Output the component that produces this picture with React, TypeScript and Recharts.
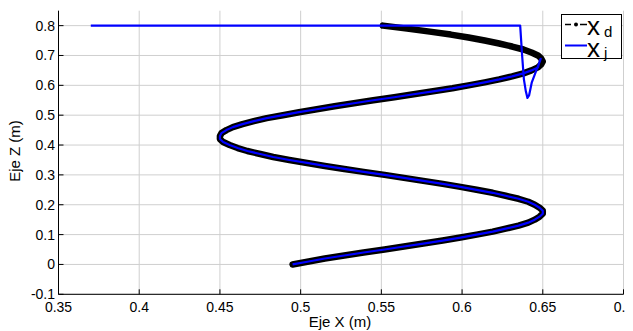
import React from 'react';
import { LineChart, Line, XAxis, YAxis, CartesianGrid } from 'recharts';

// desired trajectory x_d, every 0.01 m in Z
const spiralZ = [
  0, 0.01, 0.02, 0.03, 0.04, 0.05, 0.06, 0.07, 0.08, 0.09,
  0.1, 0.11, 0.12, 0.13, 0.14, 0.15, 0.16, 0.17, 0.18, 0.19,
  0.2, 0.21, 0.22, 0.23, 0.24, 0.25, 0.26, 0.27, 0.28, 0.29,
  0.3, 0.31, 0.32, 0.33, 0.34, 0.35, 0.36, 0.37, 0.38, 0.39,
  0.4, 0.41, 0.42, 0.43, 0.44, 0.45, 0.46, 0.47, 0.48, 0.49,
  0.5, 0.51, 0.52, 0.53, 0.54, 0.55, 0.56, 0.57, 0.58, 0.59,
  0.6, 0.61, 0.62, 0.63, 0.64, 0.65, 0.66, 0.67, 0.68, 0.69,
  0.7, 0.71, 0.72, 0.73, 0.74, 0.75, 0.76, 0.77, 0.78, 0.79,
  0.8,
];
const spiralX = [
  0.495, 0.505, 0.515, 0.527, 0.539, 0.552, 0.564, 0.576, 0.588, 0.599,
  0.609, 0.619, 0.627, 0.635, 0.641, 0.645, 0.648, 0.65, 0.65, 0.648,
  0.645, 0.641, 0.635, 0.627, 0.619, 0.609, 0.599, 0.588, 0.576, 0.564,
  0.552, 0.539, 0.527, 0.515, 0.504, 0.493, 0.483, 0.475, 0.467, 0.461,
  0.456, 0.452, 0.45, 0.45, 0.451, 0.454, 0.458, 0.464, 0.471, 0.479,
  0.489, 0.499, 0.51, 0.521, 0.533, 0.545, 0.558, 0.57, 0.582, 0.594,
  0.604, 0.614, 0.623, 0.631, 0.638, 0.643, 0.647, 0.649, 0.65, 0.649,
  0.647, 0.643, 0.638, 0.631, 0.623, 0.614, 0.604, 0.593, 0.58, 0.566,
  0.551,
];

// actual trajectory x_j: start segment + dip, then it rides the spiral down
const headX = [0.37, 0.636, 0.6372, 0.6383, 0.6395, 0.6405, 0.6415, 0.6432, 0.6463, 0.6483, 0.6487, 0.6482];
const headZ = [0.8, 0.8, 0.7, 0.62, 0.58, 0.558, 0.566, 0.61, 0.654, 0.682, 0.689, 0.684];

const xTicks = [0.35, 0.4, 0.45, 0.5, 0.55, 0.6, 0.65, 0.7];
const yTicks = [-0.1, 0, 0.1, 0.2, 0.3, 0.4, 0.5, 0.6, 0.7, 0.8];

const desired = spiralZ.map((z, i) => ({ x: spiralX[i], z }));
const actual = [
  ...headX.map((x, i) => ({ x, z: headZ[i] })),
  ...desired.filter(p => p.z <= 0.66).reverse(),
];

const font = '"Liberation Sans", Arial, Helvetica, sans-serif';
const tickStyle = { fill: '#000', fontSize: 14, fontFamily: font };

export default function App() {
  return (
    <div style={{ position: 'relative', width: 625, height: 323 }}>
      {/* shift back over the body margin so coordinates match the page */}
      <div style={{ position: 'absolute', left: -8, top: -8, width: 633, height: 331, background: '#fff' }}>
        <LineChart width={633} height={331} margin={{ top: 10.7, right: 9.5, bottom: 0, left: 0 }}>
          <CartesianGrid stroke="#cfcfcf" strokeWidth={1} horizontalValues={yTicks} verticalValues={xTicks} />
          <XAxis
            type="number"
            dataKey="x"
            domain={[0.35, 0.7]}
            ticks={xTicks}
            interval={0}
            height={36.7}
            tickSize={-5}
            tickMargin={12.5}
            tick={tickStyle}
            tickLine={{ stroke: '#000' }}
            axisLine={{ stroke: '#000' }}
          />
          <XAxis
            xAxisId="top"
            orientation="top"
            type="number"
            domain={[0.35, 0.7]}
            ticks={xTicks}
            interval={0}
            height={0}
            tickSize={-5}
            tick={false}
            tickLine={{ stroke: '#000' }}
            axisLine={{ stroke: '#000' }}
          />
          <YAxis
            type="number"
            dataKey="z"
            domain={[-0.1, 0.85]}
            ticks={yTicks}
            interval={0}
            width={58.5}
            tickSize={-5}
            tickMargin={8.5}
            tick={tickStyle}
            tickLine={{ stroke: '#000' }}
            axisLine={{ stroke: '#000' }}
          />
          <YAxis
            yAxisId="right"
            orientation="right"
            type="number"
            domain={[-0.1, 0.85]}
            ticks={yTicks}
            interval={0}
            width={0}
            tickSize={-5}
            tick={false}
            tickLine={{ stroke: '#000' }}
            axisLine={{ stroke: '#000' }}
          />
          <Line
            data={desired}
            dataKey="z"
            stroke="#000"
            strokeWidth={6.5}
            strokeLinecap="round"
            strokeLinejoin="round"
            dot={false}
            activeDot={false}
            isAnimationActive={false}
          />
          <Line
            data={actual}
            dataKey="z"
            stroke="#0000ff"
            strokeWidth={2.2}
            strokeLinejoin="round"
            dot={false}
            activeDot={false}
            isAnimationActive={false}
          />
        </LineChart>

        <svg width={633} height={331} style={{ position: 'absolute', left: 0, top: 0, pointerEvents: 'none' }}>
          <text x={20} y={151} transform="rotate(-90 20 151)" textAnchor="middle" fontFamily={font} fontSize={15} fill="#000">
            Eje Z (m)
          </text>
          <text x={340} y={326.5} textAnchor="middle" fontFamily={font} fontSize={15} fill="#000">
            Eje X (m)
          </text>

          <rect x={561.5} y={14.5} width={60} height={44} fill="#fff" stroke="#000" strokeWidth={1} />
          <line x1={565} y1={24.5} x2={571} y2={24.5} stroke="#000" strokeWidth={1.5} />
          <line x1={580} y1={24.5} x2={587} y2={24.5} stroke="#000" strokeWidth={1.5} />
          <circle cx={576} cy={24.5} r={2} fill="#000" />
          <text x={587} y={35} fontFamily={font} fontSize={26} fill="#000">x</text>
          <text x={604} y={36.5} fontFamily={font} fontSize={15} fill="#000">d</text>
          <line x1={565} y1={45.5} x2={587} y2={45.5} stroke="#0000ff" strokeWidth={2} />
          <text x={587} y={56.5} fontFamily={font} fontSize={26} fill="#000">x</text>
          <text x={604} y={57.5} fontFamily={font} fontSize={15} fill="#000">j</text>
        </svg>
      </div>
    </div>
  );
}
